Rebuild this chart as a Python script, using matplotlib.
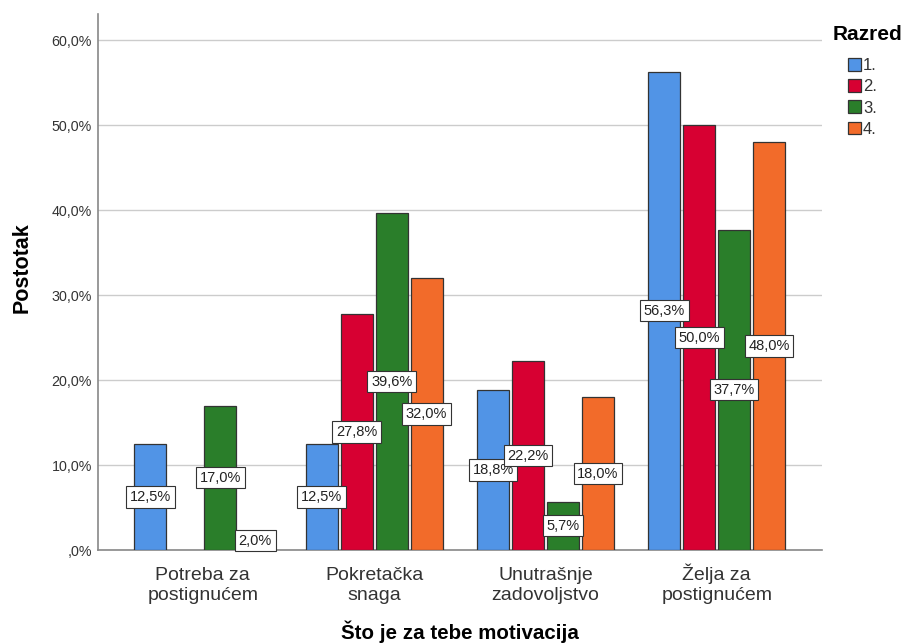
import numpy as np
import matplotlib.pyplot as plt
from matplotlib.ticker import FuncFormatter

plt.rcParams['font.family'] = ['Liberation Sans', 'DejaVu Sans']

# Data
categories = ['Potreba za\npostignućem', 'Pokretačka\nsnaga',
              'Unutrašnje\nzadovoljstvo', 'Želja za\npostignućem']
series = ['1.', '2.', '3.', '4.']
values = {
    '1.': [12.5, 12.5, 18.8, 56.3],
    '2.': [0.0, 27.8, 22.2, 50.0],
    '3.': [17.0, 39.6, 5.7, 37.7],
    '4.': [2.0, 32.0, 18.0, 48.0],
}
colors = ['#5194E6', '#D70032', '#2A7E2A', '#F26B2A']

fig = plt.figure(figsize=(9.06, 6.43), dpi=100)
ax = fig.add_axes([0.108, 0.1446, 0.799, 0.8335])

x = np.arange(len(categories))
step = 0.204
width = 0.187
for i, s in enumerate(series):
    pos = x + (i - 1.5) * step
    vals = values[s]
    for p, v in zip(pos, vals):
        if v <= 0:
            continue
        ax.bar(p, v, width, color=colors[i], edgecolor='#333333', linewidth=0.9, zorder=3)
        ax.text(p, max(v / 2, 1.1), f'{v:.1f}%'.replace('.', ','), ha='center', va='center',
                fontsize=10.5, color='#222222', zorder=4,
                bbox=dict(boxstyle='square,pad=0.25', fc='white', ec='#333333', lw=0.8))

# legend handles
for i, s in enumerate(series):
    ax.bar(0, 0, 0, color=colors[i], edgecolor='#333333', linewidth=0.9, label=s)

ax.set_xlim(-0.613, 3.613)
ax.set_ylim(0, 63.06)
ax.set_yticks(np.arange(0, 61, 10))
ax.yaxis.set_major_formatter(FuncFormatter(
    lambda v, _: ',0%' if v == 0 else f'{v:.1f}%'.replace('.', ',')))
ax.set_xticks(x)
ax.set_xticklabels([''] * len(categories))
ax.tick_params(axis='y', labelsize=10.3, colors='#333333', length=0, pad=4.3)
ax.tick_params(axis='x', length=0)

# category labels, each line on its own baseline
trans = ax.get_xaxis_transform()
for xi, cat in zip(x, categories):
    for k, line in enumerate(cat.split('\n')):
        ax.text(xi, -0.056 - k * 0.0375, line, transform=trans, ha='center',
                va='baseline', fontsize=14, color='#333333', clip_on=False)

ax.grid(axis='y', color='#cccccc', linewidth=1.0, zorder=0)
for side in ['top', 'right']:
    ax.spines[side].set_visible(False)
for side in ['left', 'bottom']:
    ax.spines[side].set_color('#888888')
    ax.spines[side].set_linewidth(1.2)

ax.set_ylabel('Postotak', fontsize=15.5, fontweight='bold', va='center')
ax.yaxis.set_label_coords(-0.105, 0.526)
ax.set_xlabel('Što je za tebe motivacija', fontsize=14.8, fontweight='bold', va='center')
ax.xaxis.set_label_coords(0.5, -0.153)

fig.text(833 / 906, 1 - 34 / 643, 'Razred', fontsize=15, fontweight='bold', va='center')
leg = ax.legend(loc='upper left', bbox_to_anchor=(848 / 906, 1 - 58 / 643),
                bbox_transform=fig.transFigure, frameon=False, fontsize=12,
                handlelength=0.75, handleheight=0.8, handletextpad=0.15,
                labelspacing=0.36, borderpad=0, borderaxespad=0)
for t in leg.get_texts():
    t.set_color('#333333')

fig.savefig('out.png', dpi=100)
